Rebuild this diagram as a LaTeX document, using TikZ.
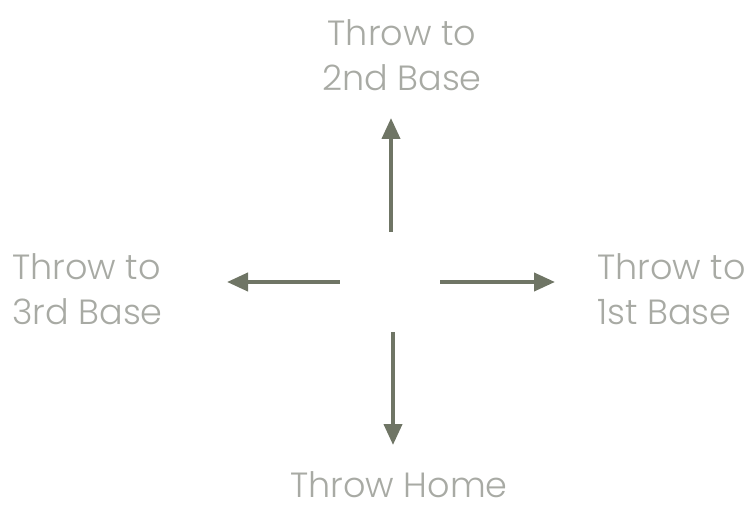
\documentclass[tikz,border=0pt]{standalone}
\usepackage{fontspec}
\setmainfont{Poppins Light}
\usepackage{tikz}
\usetikzlibrary{arrows.meta,positioning,calc}
\definecolor{labelgray}{HTML}{A8AAA4}
\definecolor{arrowgreen}{HTML}{6F7565}
\tikzset{
  throw/.style={draw=arrowgreen, line width=4pt, -{Triangle[length=21pt,width=18pt]}},
  basetext/.style={text=labelgray, font=\fontsize{35}{45}\selectfont, inner sep=0pt}
}
\begin{document}
\begin{tikzpicture}[x=1pt,y=-1pt]
  \useasboundingbox (0,0) rectangle (749,505);
  % hub in the middle
  \node[minimum width=100pt, minimum height=100pt, inner sep=0pt] (hub) at (390,282) {};
  % labels
  \node[basetext, align=center] (second) at (402,55) {Throw to\\2nd Base};
  \node[basetext, align=left, anchor=west] (third) at (12,289) {Throw to\\3rd Base};
  \node[basetext, align=left, anchor=west] (first) at (597,289) {Throw to\\1st Base};
  \node[basetext, anchor=south] (home) at (399,498) {Throw Home};
  % arrow tips
  \coordinate (tipUp) at (391,118);
  \coordinate (tipLeft) at (227,282);
  \coordinate (tipRight) at (555,282);
  \coordinate (tipDown) at (393,445);
  \draw[throw] (hub.north -| tipUp) -- (tipUp);
  \draw[throw] (hub.west) -- (tipLeft);
  \draw[throw] (hub.east) -- (tipRight);
  \draw[throw] (hub.south -| tipDown) -- (tipDown);
\end{tikzpicture}
\end{document}
